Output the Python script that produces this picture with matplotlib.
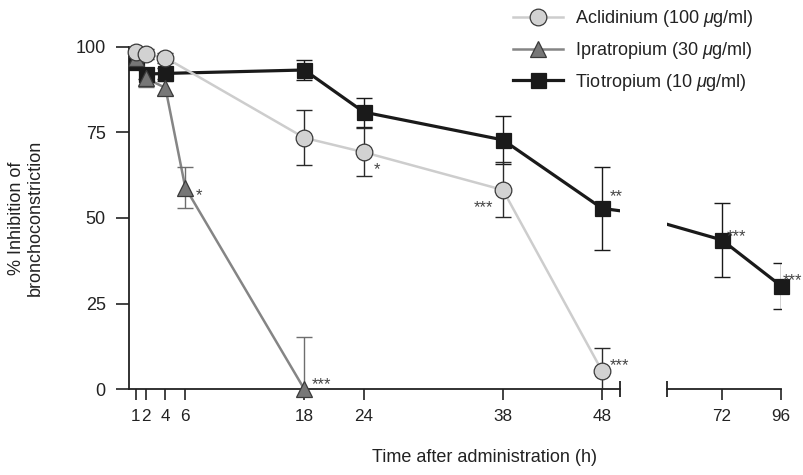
import numpy as np
import matplotlib
matplotlib.use("Agg")
import matplotlib.pyplot as plt
from matplotlib.lines import Line2D

plt.rcParams["font.family"] = ["Liberation Sans", "DejaVu Sans"]
plt.rcParams["mathtext.fontset"] = "custom"
plt.rcParams["mathtext.rm"] = "Liberation Sans"
plt.rcParams["mathtext.it"] = "Liberation Sans:italic"
plt.rcParams["text.color"] = "#222222"

# mean % inhibition and SEM per time point (h)
acl_hours = [1, 2, 4, 18, 24, 38, 48]
acl_mean = [98.4, 97.8, 96.8, 73.4, 69.2, 58.2, 5.3]
acl_sem = [1.5, 1.5, 1.5, 8.0, 7.0, 8.0, 6.8]

ipr_hours = [1, 2, 4, 6, 18]
ipr_mean = [96.7, 90.8, 88.0, 58.9, 0.0]
ipr_sem = [1.5, 2.5, 2.0, 6.0, 15.4]

tio_hours = [1, 2, 4, 18, 24, 38, 48, 72, 96]
tio_mean = [95.5, 92.0, 92.2, 93.2, 80.9, 72.8, 52.8, 43.6, 30.2]
tio_sem = [1.5, 1.5, 1.5, 3.0, 4.2, 7.0, 12.0, 10.8, 6.7]

# significance marks: (hour, text)
acl_sig = [(24, "*"), (38, "***"), (48, "***")]
ipr_sig = [(6, "*"), (18, "***")]
tio_sig = [(48, "**"), (72, "***"), (96, "***")]

left_ticks = [1, 2, 4, 6, 18, 24, 38, 48]
right_ticks = [72, 96]
y_ticks = [0, 25, 50, 75, 100]

series = [
    dict(name="Tiotropium (10 $\\mu$g/ml)", h=tio_hours, m=tio_mean, e=tio_sem, sig=tio_sig,
         line="#1a1a1a", lw=2.3, marker="s", ms=10.8, fc="#1a1a1a", ec="#1a1a1a", err="#1a1a1a"),
    dict(name="Ipratropium (30 $\\mu$g/ml)", h=ipr_hours, m=ipr_mean, e=ipr_sem, sig=ipr_sig,
         line="#858585", lw=1.8, marker="^", ms=12, fc="#777777", ec="#3a3a3a", err="#6e6e6e"),
    dict(name="Aclidinium (100 $\\mu$g/ml)", h=acl_hours, m=acl_mean, e=acl_sem, sig=acl_sig,
         line="#cdcdcd", lw=1.8, marker="o", ms=12, fc="#d2d2d2", ec="#3a3a3a", err="#2a2a2a"),
]

# star label offsets in pixels (dx, dy) from the point
sig_offsets = {
    ("Tio", 48): (14, 16), ("Tio", 72): (15, 8), ("Tio", 96): (11, 10),
    ("Ipr", 6): (14, -4), ("Ipr", 18): (17, 9),
    ("Acl", 24): (13, -13), ("Acl", 38): (-19, -13), ("Acl", 48): (17, 10),
}
short = ["Tio", "Ipr", "Acl"]


def fwd(x):
    x = np.asarray(x, dtype=float)
    return np.where(x < 72, (x - 60) * 55 / 12, 55 + (x - 72) * 59 / 24)


def inv(u):
    u = np.asarray(u, dtype=float)
    return np.where(u < 55, 60 + u * 12 / 55, 72 + (u - 55) * 24 / 59)


W, H = 804, 475
fig = plt.figure(figsize=(W / 100, H / 100), dpi=100)
bot = 1 - 389.3 / H
hgt = (389.3 - 46.7) / H
ax1 = fig.add_axes([128.7 / W, bot, (620 - 128.7) / W, hgt])
ax2 = fig.add_axes([666.7 / W, bot, (781 - 666.7) / W, hgt])
ax2.set_xscale("function", functions=(fwd, inv))

ax1.set_xlim(0.3, 49.8)
ax2.set_xlim(60, 96)
for ax in (ax1, ax2):
    ax.set_ylim(0, 100)
    ax.patch.set_visible(False)
    for s in ("top", "right"):
        ax.spines[s].set_visible(False)
    ax.spines["bottom"].set_linewidth(1.3)
    ax.spines["bottom"].set_color("#222222")
    ax.tick_params(axis="x", length=8, width=1.2, pad=6, labelsize=12.3,
                   colors="#222222", direction="out")

ax1.spines["left"].set_linewidth(1.3)
ax1.spines["left"].set_color("#222222")
ax1.tick_params(axis="y", length=9.5, width=1.2, pad=7, labelsize=13, colors="#222222")
ax1.set_yticks(y_ticks)
ax1.set_xticks(left_ticks)
ax2.spines["left"].set_visible(False)
ax2.set_yticks([])
ax2.set_xticks(right_ticks)
ax2.set_xticklabels([str(t) for t in right_ticks])
ax2.xaxis.set_minor_locator(matplotlib.ticker.NullLocator())

# break marks at the cut ends of the time axis
ax1.plot([1], [0], transform=ax1.transAxes, marker="|", ms=12, mew=1.3,
         color="#222222", clip_on=False)
ax2.plot([0], [0], transform=ax2.transAxes, marker="|", ms=12, mew=1.3,
         color="#222222", clip_on=False)

handles = {}
for key, s in zip(short, series):
    h = np.array(s["h"], dtype=float)
    m = np.array(s["m"], dtype=float)
    e = np.array(s["e"], dtype=float)
    for ax, lo, hi in ((ax1, 0.3, 49.8), (ax2, 60, 96)):
        ax.plot(h, m, color=s["line"], lw=s["lw"], solid_capstyle="butt", zorder=2)
        inside = (h >= lo) & (h <= hi)
        ax.errorbar(h[inside], m[inside], yerr=e[inside], fmt="none",
                    ecolor=s["err"], elinewidth=1.0, capsize=5.6, capthick=1.0,
                    zorder=3)
        ax.plot(h[inside], m[inside], linestyle="none", marker=s["marker"], ms=s["ms"],
                mfc=s["fc"], mec=s["ec"], mew=0.9, zorder=4, clip_on=False)
        for hour, txt in s["sig"]:
            if lo <= hour <= hi:
                dx, dy = sig_offsets[(key, hour)]
                ax.annotate(txt, (hour, m[list(h).index(hour)]), xytext=(dx, dy - 9),
                            textcoords="offset pixels", ha="center", va="baseline",
                            fontsize=12, color="#444444", annotation_clip=False,
                            zorder=5)
    handles[key] = Line2D([], [], color=s["line"], lw=s["lw"], marker=s["marker"],
                          ms=s["ms"], mfc=s["fc"], mec=s["ec"], mew=0.9, label=s["name"])

fig.legend(handles=[handles["Acl"], handles["Ipr"], handles["Tio"]],
           loc="upper left", bbox_to_anchor=(513 / W, 1 - 8 / H), frameon=False,
           fontsize=13, handlelength=2.75, handletextpad=0.7, labelspacing=0.6,
           borderpad=0, borderaxespad=0)

fig.text(26 / W, 1 - 218 / H, "% Inhibition of\nbronchoconstriction", rotation=90,
         ha="center", va="center", fontsize=13, linespacing=1.15)
fig.text(484.5 / W, 1 - 457 / H, "Time after administration (h)", ha="center",
         va="center", fontsize=13)

fig.savefig("out.png", dpi=100)
